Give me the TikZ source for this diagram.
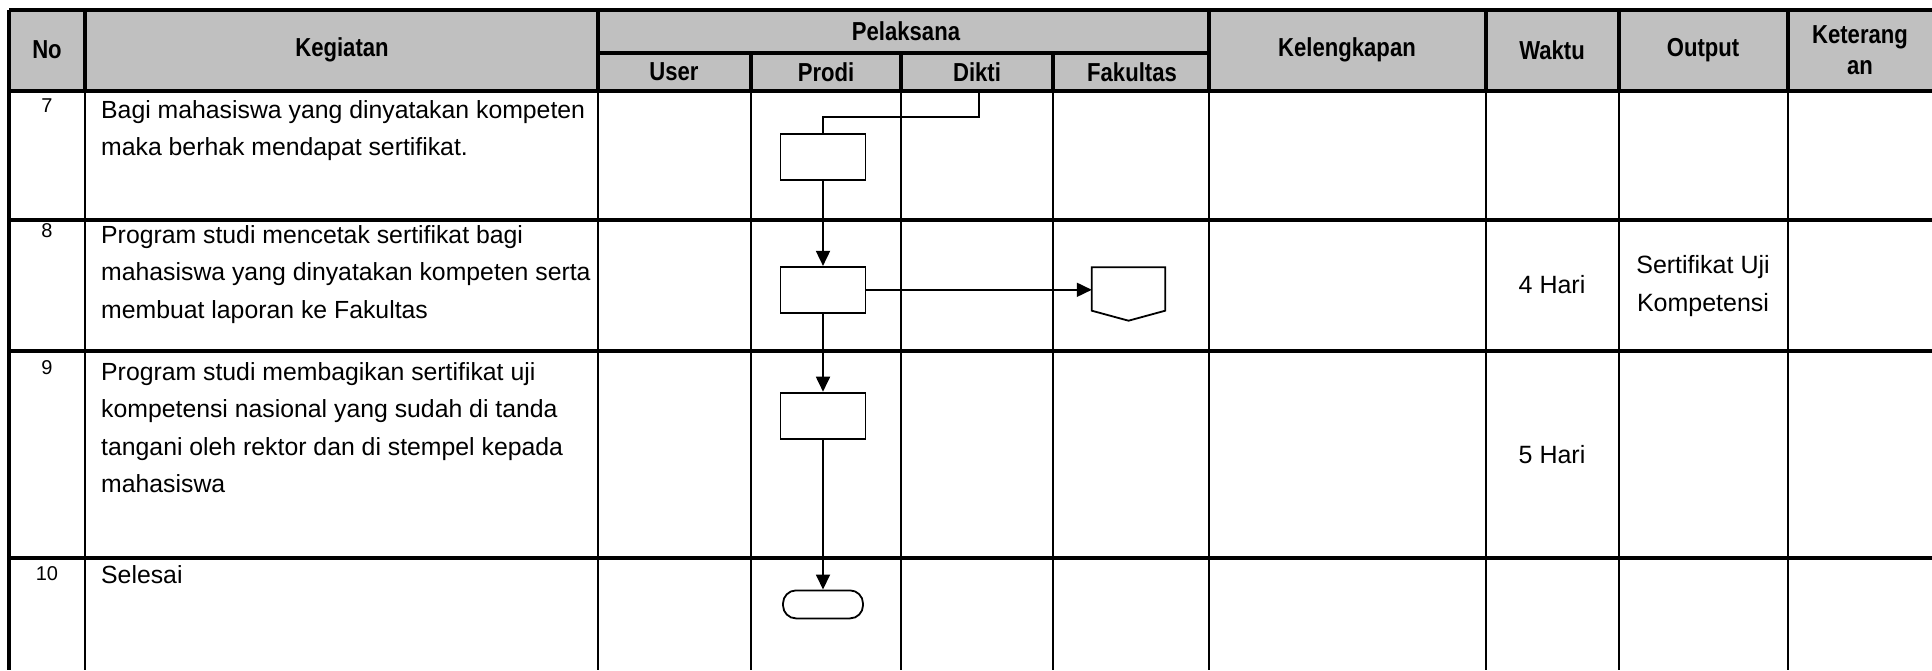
\documentclass[tikz,border=0pt]{standalone}
\usepackage{fontspec}
\setmainfont{Liberation Sans}
\newfontfamily\headfont{Liberation Sans}[FakeStretch=0.85]
\usetikzlibrary{arrows.meta,positioning}
\definecolor{headgray}{RGB}{192,192,192}

\begin{document}
\begin{tikzpicture}[
    x=1pt, y=-1pt,
    hd/.style={font=\headfont\bfseries\fontsize{26}{31}\selectfont, align=center, inner sep=0pt},
    txt/.style={font=\fontsize{24.8}{37.5}\selectfont, align=left, anchor=north west, inner sep=0pt},
    num/.style={font=\fontsize{20}{20}\selectfont, anchor=base, inner sep=0pt},
    cell/.style={font=\fontsize{25}{38}\selectfont, align=center, inner sep=0pt},
    box/.style={draw, line width=1.8pt, minimum width=85pt, minimum height=46pt, inner sep=0pt},
    term/.style={draw, line width=1.8pt, rounded corners=13pt, minimum width=80pt, minimum height=28pt, inner sep=0pt},
    flow/.style={line width=1.8pt},
    arr/.style={-{Triangle[length=15pt,width=14pt]}, line width=1.8pt}
  ]
    \useasboundingbox (0,0) rectangle (1932,670);
    % header
    \fill[headgray] (9,10) rectangle (1932,91);
    \draw[line width=4pt] (9,10) -- (1932,10);
    \draw[line width=4.5pt] (9,91) -- (1932,91);
    \draw[line width=3.5pt] (598,53) -- (1209,53);
    \foreach \xx in {85,598,1209,1486,1619,1788}
      \draw[line width=3.5pt] (\xx,10) -- (\xx,91);
    \foreach \xx in {751,901,1053}
      \draw[line width=3.5pt] (\xx,53) -- (\xx,91);
    % body grid
    \draw[line width=3.5pt] (9,10) -- (9,670);
    \foreach \xx in {85,598,751,901,1053,1209,1486,1619,1788}
      \draw[line width=2.5pt] (\xx,91) -- (\xx,670);
    \foreach \yy in {220,351,558}
      \draw[line width=4.5pt] (9,\yy) -- (1932,\yy);

    \node[hd] (hno) at (47,50) {No};
    \node[hd] (hkeg) at (342,50) {Kegiatan};
    \node[hd] (hpel) at (906,31) {Pelaksana};
    \node[hd] (huser) at (674,72) {User};
    \node[hd] (hprodi) at (826,72) {Prodi};
    \node[hd] (hdikti) at (977,72) {Dikti};
    \node[hd] (hfak) at (1132,72) {Fakultas};
    \node[hd] (hkel) at (1347,50) {Kelengkapan};
    \node[hd] (hwaktu) at (1552,50) {Waktu};
    \node[hd] (hout) at (1703,50) {Output};
    \node[hd] (hket) at (1860,50) {Keterang\\an};

    % rows
    \node[num] (n7) at (47,112) {7};
    \node[num] (n8) at (47,237) {8};
    \node[num] (n9) at (47,374) {9};
    \node[num] (n10) at (47,580) {10};
    \node[txt] (k7) at (101,100) {Bagi mahasiswa yang dinyatakan kompeten\\maka berhak mendapat sertifikat.};
    \node[txt] (k8) at (101,225) {Program studi mencetak sertifikat bagi\\mahasiswa yang dinyatakan kompeten serta\\membuat laporan ke Fakultas};
    \node[txt] (k9) at (101,362) {Program studi membagikan sertifikat uji\\kompetensi nasional yang sudah di tanda\\tangani oleh rektor dan di stempel kepada\\mahasiswa};
    \node[txt] (k10) at (101,565) {Selesai};
    \node[cell, anchor=base] (w8) at (1552,293) {4 Hari};
    \node[cell, anchor=base] (w9) at (1552,463) {5 Hari};
    \node[cell, anchor=north] (o8) at (1703,255) {Sertifikat Uji\\Kompetensi};

    % flow
    \coordinate (src) at (979,91);
    \coordinate (bend) at (979,117);
    \node[box] (p7) at (823,157) {};
    \node[box, below=85pt of p7] (p8) {};
    \node[box, below=78pt of p8] (p9) {};
    \node[term, below=150pt of p9] (fin) {};
    \node[minimum width=73pt, minimum height=43pt, inner sep=0pt] (opc) at (1128.5,289) {};
    \draw[flow] (opc.north west) -- (opc.north east) -- (opc.south east)
      -- ([yshift=-10pt]opc.south) -- (opc.south west) -- cycle;
    \draw[flow] (src) -- (bend) -| (p7.north);
    \draw[arr] (p7) -- (p8);
    \draw[arr] (p8) -- (p9);
    \draw[arr] (p9) -- (fin);
    \draw[arr] (p8.east) -- (p8.east -| opc.west);
  \end{tikzpicture}
\end{document}
